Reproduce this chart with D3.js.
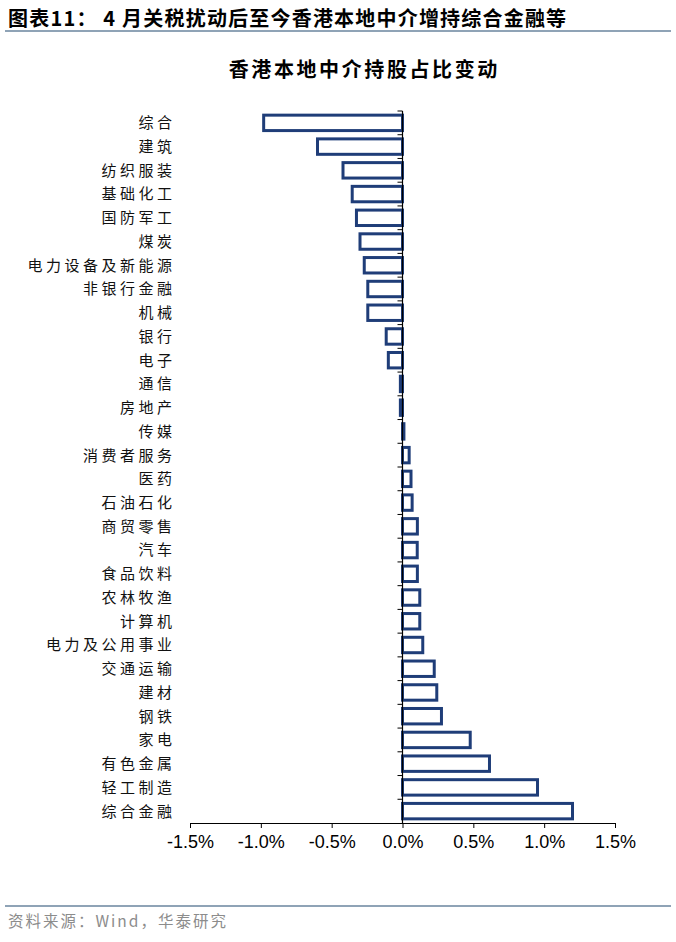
<!DOCTYPE html>
<html>
<head>
<meta charset="utf-8">
<script src="https://cdn.jsdelivr.net/npm/d3@7"></script>
<style>
  html, body { margin: 0; padding: 0; background: #fff; }
  svg { display: block; }
</style>
</head>
<body>
<div id="chart"></div>
<script>
// 香港本地中介持股占比变动 (%)
var categories = ['综合', '建筑', '纺织服装', '基础化工', '国防军工', '煤炭', '电力设备及新能源',
    '非银行金融', '机械', '银行', '电子', '通信', '房地产', '传媒', '消费者服务', '医药',
    '石油石化', '商贸零售', '汽车', '食品饮料', '农林牧渔', '计算机', '电力及公用事业',
    '交通运输', '建材', '钢铁', '家电', '有色金属', '轻工制造', '综合金融'];
var values = [-0.98, -0.60, -0.42, -0.355, -0.325, -0.30, -0.27,
    -0.245, -0.245, -0.115, -0.10, -0.015, -0.015, 0.01, 0.047, 0.06,
    0.068, 0.105, 0.104, 0.105, 0.122, 0.122, 0.143,
    0.224, 0.242, 0.275, 0.478, 0.614, 0.953, 1.20];
var xTicks = [-1.5, -1.0, -0.5, 0, 0.5, 1.0, 1.5];

var width = 676, height = 942;
var cjk = '"Noto Sans CJK SC", "Noto Sans", sans-serif';
var navy = '#1f3d78';

var svg = d3.select('#chart').append('svg')
    .attr('width', width)
    .attr('height', height);

// header
svg.append('text')
    .attr('x', 8).attr('y', 26)
    .style('font-family', cjk)
    .style('font-weight', 'bold')
    .style('font-size', '20px')
    .style('letter-spacing', '1.2px')
    .style('fill', '#000')
    .text('图表11： 4 月关税扰动后至今香港本地中介增持综合金融等');

svg.append('line')
    .attr('x1', 5).attr('x2', 671)
    .attr('y1', 31).attr('y2', 31)
    .style('stroke', '#8fa3b6').style('stroke-width', 2);

svg.append('text')
    .attr('x', 363 + 1.3).attr('y', 77)
    .attr('text-anchor', 'middle')
    .style('font-family', cjk)
    .style('font-weight', 'bold')
    .style('font-size', '20px')
    .style('letter-spacing', '2.6px')
    .text('香港本地中介持股占比变动');

// scales
var x = d3.scaleLinear().domain([-1.5, 1.5]).range([190, 615]);
var y = d3.scaleBand().domain(categories).range([111, 823])
    .paddingInner(0.35).paddingOuter(0.175);

var data = categories.map(function(c, i) { return {name: c, value: values[i]}; });

// bars
svg.append('g').selectAll('rect').data(data).enter().append('rect')
    .attr('x', function(d) { return Math.min(x(0), x(d.value)); })
    .attr('width', function(d) { return Math.abs(x(d.value) - x(0)); })
    .attr('y', function(d) { return y(d.name); })
    .attr('height', y.bandwidth())
    .style('fill', '#fff')
    .style('stroke', navy)
    .style('stroke-width', 3);

// category labels
svg.append('g').selectAll('text').data(categories).enter().append('text')
    .attr('x', 172 + 3.5)
    .attr('y', function(d) { return y(d) + y.bandwidth() / 2; })
    .attr('dy', '0.36em')
    .attr('text-anchor', 'end')
    .style('font-family', cjk)
    .style('font-size', '15px')
    .style('letter-spacing', '3.5px')
    .style('fill', '#111')
    .text(function(d) { return d; });

// y axis at zero with ticks on band boundaries
var yAxis = svg.append('g');
var off = y.step() * y.paddingOuter();
yAxis.append('line')
    .attr('x1', x(0)).attr('x2', x(0))
    .attr('y1', y.range()[0]).attr('y2', y.range()[1])
    .style('stroke', '#000').style('stroke-width', 1.2);
yAxis.selectAll('line.tk').data(categories).enter().append('line')
    .attr('class', 'tk')
    .attr('x1', x(0) - 5).attr('x2', x(0))
    .attr('y1', function(d) { return y(d) - off; })
    .attr('y2', function(d) { return y(d) - off; })
    .style('stroke', '#000').style('stroke-width', 1);

// x axis
var xAxis = svg.append('g')
    .attr('transform', 'translate(0,' + y.range()[1] + ')')
    .call(d3.axisBottom(x).tickValues(xTicks).tickSize(5).tickSizeOuter(0)
        .tickFormat(function(d) { return d.toFixed(1) + '%'; }));
xAxis.select('.domain').style('stroke', '#000').style('stroke-width', 1.2);
xAxis.selectAll('.tick line').style('stroke', '#000');
xAxis.selectAll('.tick text')
    .attr('y', 12)
    .style('font-family', '"Liberation Sans", Arial, sans-serif')
    .style('font-size', '18px')
    .style('fill', '#000');

// footer
svg.append('line')
    .attr('x1', 5).attr('x2', 671)
    .attr('y1', 906).attr('y2', 906)
    .style('stroke', '#8fa3b6').style('stroke-width', 2);

svg.append('text')
    .attr('x', 8).attr('y', 927)
    .style('font-family', cjk)
    .style('font-size', '15.5px')
    .style('letter-spacing', '2px')
    .style('fill', '#8c8c8c')
    .text('资料来源：Wind，华泰研究');
</script>
</body>
</html>
